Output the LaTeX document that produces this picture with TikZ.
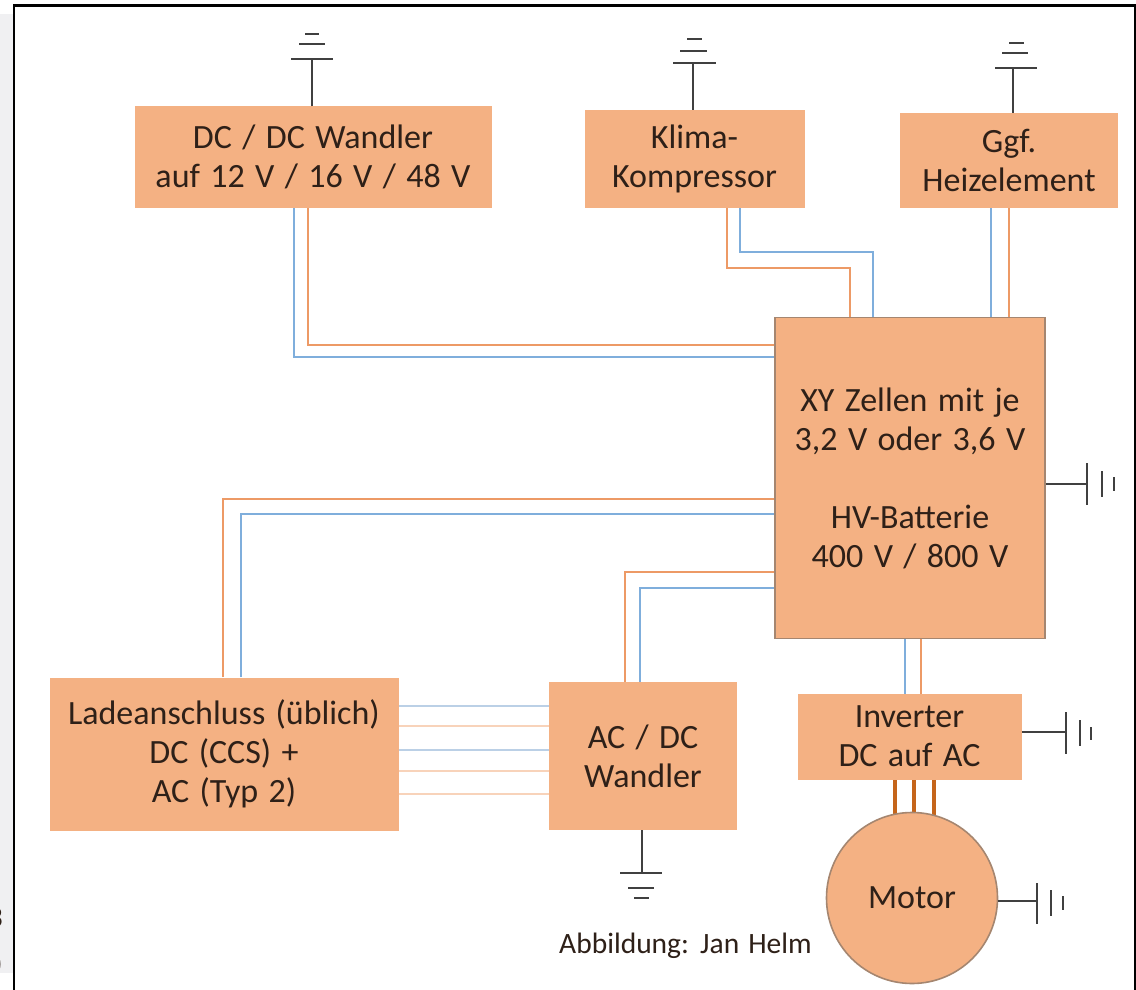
\documentclass[tikz,border=0pt]{standalone}
\usepackage{fontspec}
\setmainfont{Carlito}[WordSpace=1.35]
\definecolor{boxfill}{HTML}{F4B183}
\definecolor{boxedge}{HTML}{A58670}
\definecolor{wblue}{HTML}{7FAEDC}
\definecolor{worange}{HTML}{ED9A66}
\definecolor{wpale}{HTML}{F8D3BA}
\definecolor{wpaleb}{HTML}{BBD0E6}
\definecolor{wbrown}{HTML}{C5651B}
\definecolor{strip}{HTML}{F0F0F2}
\definecolor{gnd}{HTML}{404040}
\definecolor{ink}{HTML}{2E2018}
\tikzset{
  x=1pt,y=-1pt,
  blk/.style={draw=boxfill,line width=1pt,fill=boxfill,align=center,inner sep=0pt,font=\fontsize{34}{39}\selectfont,text=ink},
  wb/.style={draw=wblue,line width=2pt},
  wo/.style={draw=worange,line width=2pt},
  gl/.style={draw=gnd,line width=2.6pt},
  thin wire p/.style={draw=wpale,line width=1.4pt},
  thin wire b/.style={draw=wpaleb,line width=1.4pt},
  phase/.style={draw=wbrown,line width=4pt}
}
\begin{document}
\begin{tikzpicture}
\useasboundingbox (0,0) rectangle (1136,990);
\fill[white] (0,0) rectangle (1136,990);
\fill[strip] (0,14) rectangle (13,973);
\draw[black,line width=2.4pt] (14,990) -- (14,5.5) -- (1135,5.5) -- (1135,990);
\begin{scope}
\clip (0,890) rectangle (4,990);
\node[font=\fontsize{30}{30}\selectfont,text=ink,inner sep=0pt,anchor=east] (f1) at (3,918) {3};
\node[font=\fontsize{30}{30}\selectfont,text=ink,inner sep=0pt,anchor=east] (f2) at (3,965) {)};
\end{scope}

% wires
\draw[wb] (294,207) -- (294,357) -- (775,357);
\draw[wo] (308,207) -- (308,345) -- (775,345);
\draw[wo] (727,207) -- (727,268) -- (850,268) -- (850,317);
\draw[wb] (740,207) -- (740,252) -- (873,252) -- (873,317);
\draw[wb] (991,207) -- (991,317);
\draw[wo] (1009,207) -- (1009,317);
\draw[wo] (223,677) -- (223,499) -- (775,499);
\draw[wb] (241,677) -- (241,514) -- (775,514);
\draw[wo] (625,682) -- (625,572) -- (775,572);
\draw[wb] (640,682) -- (640,588) -- (775,588);
\draw[wb] (905,639) -- (905,694);
\draw[wo] (921,639) -- (921,694);
\draw[thin wire b] (398,706) -- (549,706);
\draw[thin wire p] (398,726) -- (549,726);
\draw[thin wire b] (398,750) -- (549,750);
\draw[thin wire p] (398,771) -- (549,771);
\draw[thin wire p] (398,794) -- (549,794);
\draw[phase] (895,779) -- (895,815);
\draw[phase] (914,779) -- (914,815);
\draw[phase] (934,779) -- (934,815);

% blocks
\node[blk,minimum width=356pt,minimum height=100pt] (dc) at (313,157) {DC / DC Wandler\\auf 12 V / 16 V / 48 V};
\node[blk,minimum width=219pt,minimum height=97pt] (kl) at (694.5,158.5) {Klima-\\Kompressor};
\node[blk,minimum width=217pt,minimum height=94pt] (hz) at (1009,160) {Ggf.\\Heizelement};
\node[blk,draw=boxedge,line width=1.6pt,minimum width=270pt,minimum height=321pt] (bat) at (910,478) {XY Zellen mit je\\3,2 V oder 3,6 V\\[39pt]HV-Batterie\\400 V / 800 V};
\node[blk,minimum width=348pt,minimum height=152pt] (la) at (224,754) {Ladeanschluss (üblich)\\DC (CCS) +\\AC (Typ 2)};
\node[blk,minimum width=187pt,minimum height=147pt] (ac) at (643,756) {AC / DC\\Wandler};
\node[blk,minimum width=223pt,minimum height=85pt] (inv) at (909.5,736.5) {Inverter\\DC auf AC};
\node[blk,draw=boxedge,line width=1.6pt,circle,minimum size=171pt] (mo) at (912,898) {Motor};
\node[font=\fontsize{29.5}{34}\selectfont,text=ink,anchor=west,inner sep=0pt] (cr) at (559,946) {Abbildung: Jan Helm};

% earth symbols, top
\coordinate (g1) at (312,59);
\draw[gl] (dc.north -| g1) -- (g1);
\draw[gl] (291,59) -- (333,59);
\draw[gl] (299,44) -- (325,44);
\draw[gl] (305,34) -- (319,34);
\coordinate (g2) at (693,63);
\draw[gl] (kl.north -| g2) -- (g2);
\draw[gl] (673,63) -- (716,63);
\draw[gl] (680,51) -- (707,51);
\draw[gl] (687,39) -- (702,39);
\coordinate (g3) at (1013,68);
\draw[gl] (hz.north -| g3) -- (g3);
\draw[gl] (995,68) -- (1037,68);
\draw[gl] (1002,53) -- (1028,53);
\draw[gl] (1009,43) -- (1024,43);
% bottom
\coordinate (g4) at (642,873);
\draw[gl] (ac.south -| g4) -- (g4);
\draw[gl] (620,873) -- (662,873);
\draw[gl] (628,888) -- (654,888);
\draw[gl] (634,898) -- (649,898);
% right
\coordinate (g5) at (1087,484);
\draw[gl] (bat.east |- g5) -- (g5);
\draw[gl] (1087,463) -- (1087,505);
\draw[gl] (1102,471) -- (1102,497);
\draw[gl] (1114,477) -- (1114,491);
\coordinate (g6) at (1066,732);
\draw[gl] (inv.east |- g6) -- (g6);
\draw[gl] (1066,712) -- (1066,754);
\draw[gl] (1080,720) -- (1080,746);
\draw[gl] (1091,727) -- (1091,740);
\coordinate (g7) at (1037,901);
\draw[gl] (mo.east |- g7) -- (g7);
\draw[gl] (1037,883) -- (1037,924);
\draw[gl] (1051,890) -- (1051,916);
\draw[gl] (1063,896) -- (1063,910);
\end{tikzpicture}
\end{document}
